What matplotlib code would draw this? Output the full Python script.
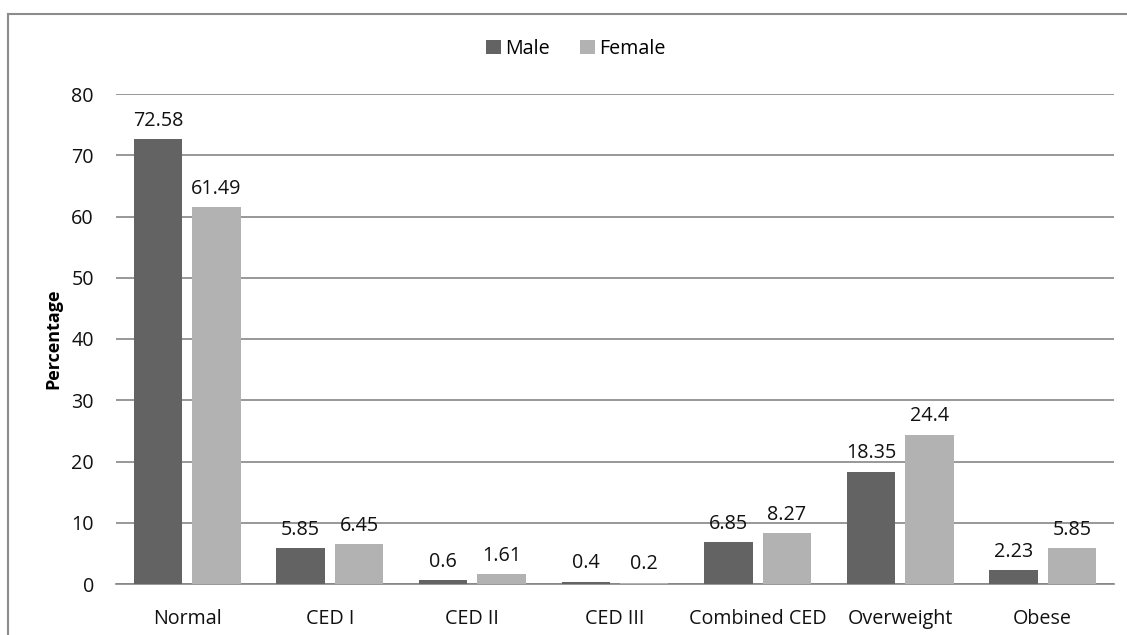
import matplotlib
matplotlib.use("Agg")
import matplotlib.pyplot as plt
from matplotlib.lines import Line2D
import numpy as np

categories = ["Normal", "CED I", "CED II", "CED III", "Combined CED", "Overweight", "Obese"]
male = [72.58, 5.85, 0.6, 0.4, 6.85, 18.35, 2.23]
female = [61.49, 6.45, 1.61, 0.2, 8.27, 24.4, 5.85]
male_labels = ["72.58", "5.85", "0.6", "0.4", "6.85", "18.35", "2.23"]
female_labels = ["61.49", "6.45", "1.61", "0.2", "8.27", "24.4", "5.85"]
yticks = [0, 10, 20, 30, 40, 50, 60, 70, 80]

plt.rcParams["font.family"] = ["Open Sans", "DejaVu Sans"]

MALE_C = "#636363"
FEMALE_C = "#b2b2b2"
GRID_C = "#868686"
FS = 14.2

fig = plt.figure(figsize=(11.27, 6.35), dpi=100)
ax = fig.add_axes([116 / 1127, 1 - 584 / 635, (1114 - 116) / 1127, (584 - 94) / 635])

x = np.arange(len(categories))
w = 0.34
off = 0.205
b1 = ax.bar(x - off, male, width=w, color=MALE_C, label="Male", zorder=3)
b2 = ax.bar(x + off, female, width=w, color=FEMALE_C, label="Female", zorder=3)

for bars, labels in ((b1, male_labels), (b2, female_labels)):
    for rect, lab in zip(bars, labels):
        ax.annotate(lab, (rect.get_x() + rect.get_width() / 2, rect.get_height()),
                    xytext=(0, 6), textcoords="offset points",
                    ha="center", va="bottom", fontsize=FS, color="#111111", zorder=4)

ax.set_xlim(-0.5, len(categories) - 0.5)
ax.set_ylim(0, 80)
ax.set_yticks(yticks)
ax.set_xticks(x)
ax.set_xticklabels(categories)
ax.yaxis.grid(True, color=GRID_C, linewidth=1.2, zorder=0)
ax.set_axisbelow(True)
for s in ("top", "right", "left"):
    ax.spines[s].set_visible(False)
ax.spines["bottom"].set_color(GRID_C)
ax.spines["bottom"].set_linewidth(1.2)
ax.tick_params(axis="y", length=0, pad=16, labelsize=FS, labelcolor="#111111")
ax.tick_params(axis="x", length=0, pad=18, labelsize=FS, labelcolor="#111111")
ax.set_ylabel("Percentage", fontsize=13, fontweight="bold", labelpad=6)

fig.legend(handles=[b1, b2], labels=["Male", "Female"], loc="center",
           bbox_to_anchor=(0.511, 1 - 49 / 635), ncol=2, frameon=False,
           fontsize=FS, handlelength=0.75, handleheight=0.75, handletextpad=0.25,
           columnspacing=1.5)

# outer frame (top and left edges)
fig.add_artist(Line2D([8 / 1127, 1.0], [1 - 14 / 635, 1 - 14 / 635],
                      transform=fig.transFigure, color="#8c8c8c", linewidth=1.5))
fig.add_artist(Line2D([8 / 1127, 8 / 1127], [0.0, 1 - 14 / 635],
                      transform=fig.transFigure, color="#8c8c8c", linewidth=1.5))

fig.savefig("out.png", dpi=100, facecolor="white")
